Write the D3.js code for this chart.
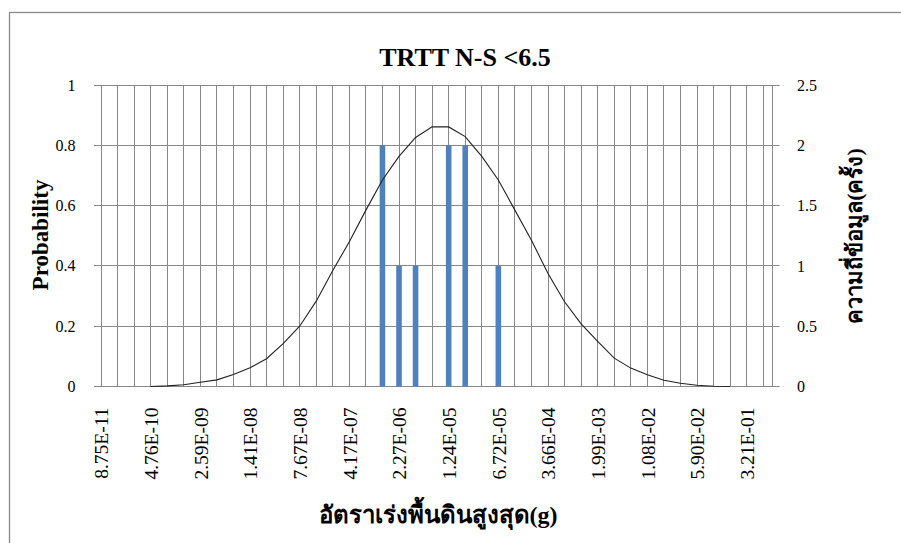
<!DOCTYPE html>
<html>
<head>
<meta charset="utf-8">
<script src="https://cdn.jsdelivr.net/npm/d3@7/dist/d3.min.js"></script>
<style>
  body { margin: 0; background: #fff; }
  svg { display: block; }
</style>
</head>
<body>
<svg id="chart" width="901" height="543"></svg>
<script>
// ---- data ----
const chartTitle = "TRTT N-S <6.5";
const xTitle = "อัตราเร่งพื้นดินสูงสุด(g)";
const yLeftTitle = "Probability";
const yRightTitle = "ความถี่ข้อมูล(ครั้ง)";

// number of log-spaced PGA bins on the category axis
const binCount = 41;
// every third bin carries a label
const tickLabels = [
  "8.75E-11", "4.76E-10", "2.59E-09", "1.41E-08", "7.67E-08",
  "4.17E-07", "2.27E-06", "1.24E-05", "6.72E-05", "3.66E-04",
  "1.99E-03", "1.08E-02", "5.90E-02", "3.21E-01"
];
const labelStep = 3;

// observed counts per bin (right axis)
const frequency = [
  0, 0, 0, 0, 0, 0, 0, 0, 0, 0,
  0, 0, 0, 0, 0, 0, 0, 2, 1, 1,
  0, 2, 2, 0, 1, 0, 0, 0, 0, 0,
  0, 0, 0, 0, 0, 0, 0, 0, 0, 0,
  0
];

// fitted distribution per bin (left axis)
const probability = [
  null, null, null, 0.000, 0.002, 0.006, 0.014, 0.022, 0.040, 0.062,
  0.092, 0.142, 0.200, 0.283, 0.385, 0.480, 0.585, 0.685, 0.763, 0.826,
  0.861, 0.861, 0.829, 0.763, 0.685, 0.585, 0.485, 0.375, 0.281, 0.208,
  0.150, 0.094, 0.061, 0.039, 0.021, 0.011, 0.004, 0.001, 0.000, null,
  null
];

const probTicks = [0, 0.2, 0.4, 0.6, 0.8, 1];
const freqTicks = [0, 0.5, 1, 1.5, 2, 2.5];

// ---- layout ----
const svg = d3.select("#chart");
const plot = { left: 101, right: 772.5, top: 85, bottom: 386.5 };
const serif = "'Liberation Serif', 'Times New Roman', serif";
const gridColor = "#888";

const x = d3.scaleLinear().domain([0, 40.56]).range([plot.left, plot.right]);
const yL = d3.scaleLinear().domain([0, 1]).range([plot.bottom, plot.top]);
const yR = d3.scaleLinear().domain([0, 2.5]).range([plot.bottom, plot.top]);
const crisp = v => Math.round(v - 0.5) + 0.5;

// outer chart frame
svg.append("rect")
  .attr("x", 9.5).attr("y", 12.5)
  .attr("width", 1000).attr("height", 1000)
  .attr("fill", "none").attr("stroke", "#8a8a8a").attr("stroke-width", 1.3);

// vertical gridlines at each bin, plus the right edge of the plot
const grid = svg.append("g").attr("stroke", gridColor).attr("stroke-width", 1);
grid.selectAll("line.v")
  .data(d3.range(binCount))
  .join("line")
  .attr("class", "v")
  .attr("x1", d => crisp(x(d))).attr("x2", d => crisp(x(d)))
  .attr("y1", plot.top).attr("y2", plot.bottom);
grid.append("line")
  .attr("x1", crisp(plot.right)).attr("x2", crisp(plot.right))
  .attr("y1", plot.top).attr("y2", plot.bottom);

// left axis; its ticks run across the plot as horizontal gridlines
const leftAxis = svg.append("g")
  .attr("transform", `translate(${plot.left},0)`)
  .call(d3.axisLeft(yL).tickValues(probTicks).tickFormat(d => String(d))
    .tickSizeOuter(0));
leftAxis.select(".domain").remove();
leftAxis.selectAll(".tick").attr("transform", d => `translate(0,${crisp(yL(d))})`);
leftAxis.selectAll(".tick line")
  .attr("x1", -7).attr("x2", plot.right - plot.left + 7)
  .attr("stroke", gridColor);
leftAxis.selectAll(".tick text")
  .attr("x", -25.5)
  .attr("font-family", serif).attr("font-size", 16).attr("fill", "#000");

// right axis labels
const rightAxis = svg.append("g")
  .attr("transform", `translate(${plot.right},0)`)
  .call(d3.axisRight(yR).tickValues(freqTicks).tickFormat(d => String(d))
    .tickSize(0).tickPadding(24.5));
rightAxis.select(".domain").remove();
rightAxis.selectAll(".tick text")
  .attr("font-family", serif).attr("font-size", 16).attr("fill", "#000");

// frequency bars
const barW = 5.6;
svg.append("g").selectAll("rect")
  .data(frequency.map((v, i) => ({ i, v })).filter(d => d.v > 0))
  .join("rect")
  .attr("x", d => x(d.i) - barW / 2)
  .attr("y", d => yR(d.v))
  .attr("width", barW)
  .attr("height", d => yR(0) - yR(d.v))
  .attr("fill", "#4f81bd");

// fitted probability curve
const line = d3.line()
  .defined(d => d.v !== null)
  .x(d => x(d.i))
  .y(d => yL(d.v));
svg.append("path")
  .datum(probability.map((v, i) => ({ i, v })))
  .attr("d", line)
  .attr("fill", "none")
  .attr("stroke", "#222")
  .attr("stroke-width", 1.1);

// category labels (every third bin), rotated
const xAxis = svg.append("g")
  .attr("transform", `translate(0,${plot.bottom})`)
  .call(d3.axisBottom(x)
    .tickValues(tickLabels.map((_, k) => k * labelStep))
    .tickFormat((d, k) => tickLabels[k])
    .tickSize(0));
xAxis.select(".domain").remove();
xAxis.selectAll(".tick text")
  .attr("font-family", serif).attr("font-size", 19.5).attr("fill", "#000")
  .attr("text-anchor", "end")
  .attr("transform", "rotate(-90)")
  .attr("x", -21).attr("y", 0).attr("dy", "0.35em");

// titles
svg.append("text")
  .attr("x", 465).attr("y", 66)
  .attr("text-anchor", "middle")
  .attr("font-family", serif).attr("font-weight", "bold").attr("font-size", 26)
  .text(chartTitle);

svg.append("text")
  .attr("transform", "translate(40,235) rotate(-90)")
  .attr("text-anchor", "middle").attr("dy", "0.35em")
  .attr("font-family", serif).attr("font-weight", "bold").attr("font-size", 23)
  .text(yLeftTitle);

svg.append("text")
  .attr("transform", "translate(854,236) rotate(-90)")
  .attr("text-anchor", "middle").attr("dy", "0.35em")
  .attr("font-family", serif).attr("font-weight", "bold").attr("font-size", 22)
  .text(yRightTitle);

svg.append("text")
  .attr("x", 438).attr("y", 523)
  .attr("text-anchor", "middle")
  .attr("font-family", serif).attr("font-weight", "bold").attr("font-size", 24)
  .text(xTitle);
</script>
</body>
</html>
